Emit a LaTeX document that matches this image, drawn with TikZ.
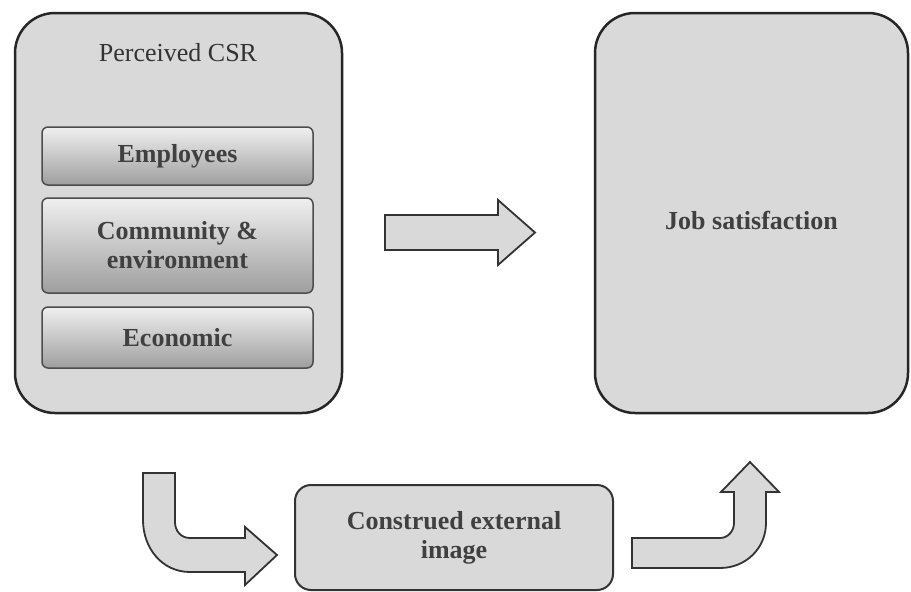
\documentclass[tikz,border=0pt]{standalone}
\usepackage{fontspec}
\setmainfont{Liberation Serif}
\begin{document}
\begin{tikzpicture}[x=1pt,y=-1pt,
  bigbox/.style={draw=black!85, line width=2.5pt, fill=black!15, rounded corners=40pt, inner sep=0pt},
  subbox/.style={draw=black!70, line width=1.5pt, top color=black!6, bottom color=black!38, rounded corners=6pt, inner sep=0pt, minimum width=271pt},
  midbox/.style={draw=black!80, line width=2pt, fill=black!15, rounded corners=16pt, inner sep=0pt},
  fatarrow/.style={draw=black!80, line width=1.8pt, fill=black!15, line join=miter},
  bigtxt/.style={font=\fontsize{26}{29}\selectfont, text=black!80, align=center},
  boldtxt/.style={font=\fontsize{26}{29}\selectfont\bfseries, text=black!75, align=center}
]
\useasboundingbox (0,0) rectangle (911,592);
% left container
\node[bigbox, minimum width=327pt, minimum height=400pt] (csr) at (178.5,213) {};
\node[bigtxt] (csrtitle) at (178,53) {Perceived CSR};
\node[subbox, minimum height=58pt] (emp) at (177.5,156) {};
\node[boldtxt] (emptxt) at (emp.center) {Employees};
\node[subbox, minimum height=95pt] (com) at (177.5,245.5) {};
\node[boldtxt] (comtxt) at (com.center) {Community \&\\environment};
\node[subbox, minimum height=61pt] (eco) at (177.5,337.5) {};
\node[boldtxt] (ecotxt) at (eco.center) {Economic};
% right container
\node[bigbox, minimum width=313pt, minimum height=400pt] (job) at (751.5,213) {};
\node[boldtxt] (jobtxt) at (751.5,220) {Job satisfaction};
% mediator
\node[midbox, minimum width=318pt, minimum height=105pt] (cei) at (454,537.5) {};
\node[boldtxt] (ceitxt) at (cei.center) {Construed external\\image};
% middle straight arrow
\draw[fatarrow] (385,215) -- (498,215) -- (498,200) -- (535,232.5) -- (498,265) -- (498,250) -- (385,250) -- cycle;
% left bent arrow
\draw[fatarrow] (143,473) -- (143,520) .. controls (143,548) and (162,572) .. (190,572)
  -- (245,572) -- (245,585) -- (277,555) -- (245,527) -- (245,538) -- (190,538)
  .. controls (181,538) and (175,531) .. (175,522) -- (175,473) -- cycle;
% right bent arrow
\draw[fatarrow] (632,538) -- (632,568) -- (720,568) .. controls (746,568) and (766,548) .. (766,523)
  -- (766,492) -- (779,492) -- (750,462) -- (721,492) -- (734,492) -- (734,523)
  .. controls (734,531) and (728,538) .. (720,538) -- cycle;
\end{tikzpicture}
\end{document}
